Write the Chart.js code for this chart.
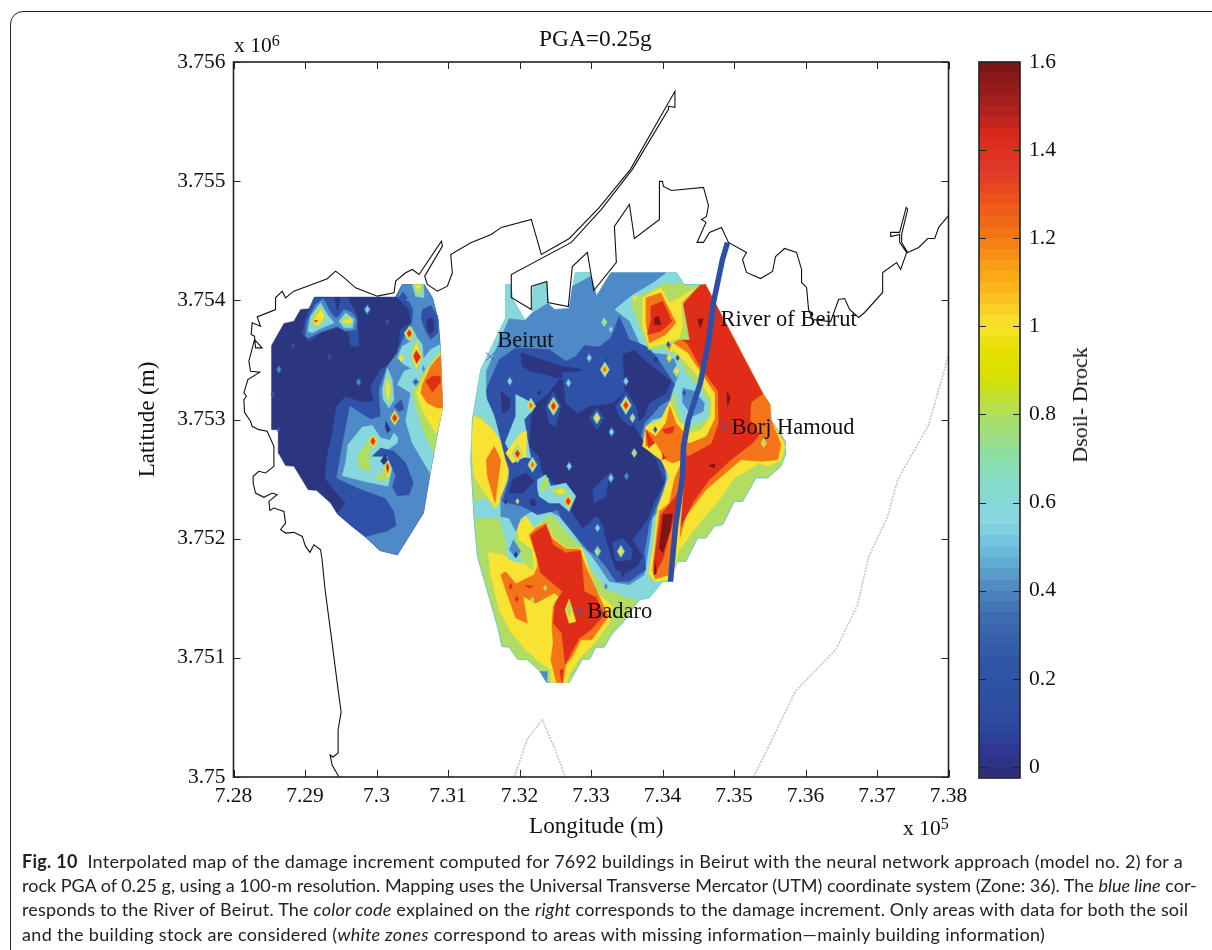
<!DOCTYPE html>
<html lang="en">
<head>
<meta charset="UTF-8">
<title>PGA=0.25g</title>
<script src="https://cdn.jsdelivr.net/npm/chart.js"></script>
<style>
  * { margin: 0; padding: 0; box-sizing: border-box; }
  html, body { width: 1212px; height: 950px; overflow: hidden; background: #fff; }
  canvas { position: absolute; }
  #frame { position: absolute; left: 10px; top: 11px; width: 1300px; height: 1000px; border: 1.3px solid #222; border-radius: 13px 0 0 0; }
  .serif { position: absolute; font-family: "Liberation Serif", serif; color: #111; white-space: nowrap; }
  .serif sup { font-size: 16px; position: relative; top: -1px; vertical-align: top; line-height: 18px; }
  #caption div { position: absolute; left: 22px; font-family: Lato, sans-serif; font-size: 18px; line-height: 24px; color: #222; white-space: nowrap; }
</style>
</head>
<body>
<div id="frame"></div>
<canvas id="map" width="1212" height="850" style="left:0;top:0"></canvas>
<canvas id="bar" width="140" height="760" style="left:960px;top:40px"></canvas>
<div class="serif" style="left:539px;top:25px;font-size:23.4px">PGA=0.25g</div>
<div class="serif" style="left:529px;top:812px;font-size:23.2px">Longitude (m)</div>
<div class="serif" style="left:234px;top:33px;font-size:21.5px">x 10<sup>6</sup></div>
<div class="serif" style="left:903px;top:816px;font-size:21.5px">x 10<sup>5</sup></div>
<div class="serif" style="left:1080px;top:405px;font-size:22px;transform:translate(-50%,-50%) rotate(-90deg)">Dsoil- Drock</div>
<div id="caption">
  <div style="top:849px;letter-spacing:0.27px"><b>Fig. 10</b>&nbsp; Interpolated map of the damage increment computed for 7692 buildings in Beirut with the neural network approach (model no. 2) for a</div>
  <div style="top:873px">rock PGA of 0.25 g, using a 100-m resolution. Mapping uses the Universal Transverse Mercator (UTM) coordinate system (Zone: 36). The <i>blue line</i> cor-</div>
  <div style="top:897px;letter-spacing:0.18px">responds to the River of Beirut. The <i>color code</i> explained on the <i>right</i> corresponds to the damage increment. Only areas with data for both the soil</div>
  <div style="top:922px;letter-spacing:0.32px">and the building stock are considered (<i>white zones</i> correspond to areas with missing information—mainly building information)</div>
</div>
<script>
// ticks
const lonTicks = [728000, 729000, 730000, 731000, 732000, 733000, 734000, 735000, 736000, 737000, 738000];
const latTicks = [3750000, 3751000, 3752000, 3753000, 3754000, 3755000, 3756000];
const barTicks = [0, 0.2, 0.4, 0.6, 0.8, 1, 1.2, 1.4, 1.6];

// contour bands of the map, index = band
const bandColors = ['#2b3580', '#2f52a8', '#4f8ac8', '#86d8dc', '#b1de62', '#f8e232', '#f47517', '#e02d18', '#7e1512'];

// all outlines below: metres east of 728000, metres north of 3750000 (e, n, e, n ...)
const ORIGIN_E = 728000, ORIGIN_N = 3750000;

// west patch
const westBase = [532,3621,705,3805,845,3825,938,3923,1055,3929,1134,4027,2268,4027,2361,4133,2665,4133,2781,4021,2861,3839,2889,3615,2922,3097,2851,2887,2749,2551,2655,2215,2292,1865,2049,1901,1848,2013,1647,2109,1451,2209,1358,2299,1162,2405,1045,2411,845,2607,728,2613,635,2713,625,2915,532,2915];
const westBlue = [2268,4027,2338,3993,2455,3923,2478,3811,2338,3755,2315,3629,2245,3475,2058,3419,1918,3279,1965,3153,1778,3145,1568,3195,1442,3111,1381,2887,1311,2691,1279,2509,1381,2425,1568,2299,1451,2209,1647,2109,1848,2013,2049,1901,2292,1865,2655,2215,2749,2551,2851,2887,2922,3097,2889,3615,2861,3839,2781,4021,2665,4133,2361,4133];
const westMid = [1848,2013,2151,2061,2282,2109,2245,2229,2128,2341,1801,2411,1442,2509,1521,2775,1629,3111,1918,2999,2058,3027,2035,3251,2151,3447,2291,3559,2431,3755,2501,3811,2515,3923,2455,3993,2291,4035,2361,4133,2665,4133,2781,4021,2861,3839,2889,3615,2922,3097,2851,2887,2749,2551,2655,2215,2292,1865,2049,1901];
const westTopBlue = [2315,4029,2371,4069,2431,4021,2371,3985];
const westNeBlue = [2641,3923,2758,3957,2851,3867,2861,3727,2758,3671,2688,3741,2628,3839];
const westNeNavy = [2711,3839,2781,3853,2805,3755,2744,3713,2711,3769];
const westCyanE = [2749,2551,2501,2803,2408,2985,2478,3223,2291,3293,2385,3405,2571,3447,2758,3587,2889,3629,2922,3097,2851,2887];
const westCyanU = [2291,3517,2361,3615,2571,3685,2641,3629,2665,3419,2571,3405,2385,3461];
const westCyanV = [2385,3727,2478,3783,2562,3699,2501,3657,2431,3671];
const westCyanT = [2501,4133,2655,4133,2665,4021,2548,4035];
const westGreenE = [2805,2719,2665,2887,2548,3111,2501,3223,2618,3363,2781,3489,2889,3573,2922,3097,2851,2887];
const westYellowE = [2842,2881,2711,2999,2609,3125,2562,3223,2711,3419,2889,3553,2922,3097];
const westOrangeE = [2898,3545,2758,3447,2641,3293,2618,3223,2711,3139,2851,3097,2926,3097];
const westRedE = [2688,3321,2781,3363,2889,3363,2889,3307,2781,3231];
const westMidDot = [2501,3315,2548,3349,2595,3315,2548,3279];
const westBlueDot = [2525,3315,2548,3329,2571,3315,2548,3299];
const westMidDot2 = [2641,3419,2655,3453,2679,3419,2655,3402];
const nwBlue = [961,3727,1008,3839,1125,4021,1405,4021,1451,3895,1507,4021,1601,4021,1731,3867,1755,3615,1638,3615,1601,3741,1451,3769,1218,3727,1055,3657];
const nwMid = [1008,3699,1031,3825,1148,3965,1255,4013,1358,3895,1442,3845,1545,3923,1661,3895,1722,3839,1708,3755,1568,3741,1451,3783,1241,3741,1041,3685];
const nwCyan = [1041,3741,1078,3867,1218,3979,1311,3881,1405,3811,1241,3769,1101,3727];
const nwCyan2 = [1475,3825,1568,3895,1685,3839,1661,3769,1545,3769];
const nwGreen = [1078,3811,1148,3909,1227,3951,1288,3853,1171,3769];
const nwGreen2 = [1507,3831,1591,3873,1666,3825,1591,3783];
const nwYellow = [1115,3825,1227,3923,1265,3853,1171,3789];
const nwYellow2 = [1535,3825,1638,3845,1647,3817,1545,3811];
const nwRed = [1125,3831,1181,3831,1153,3817];
const ridgeGreen = [2478,3531,2553,3693,2641,3531,2562,3405];
const ridgeYellow = [2501,3531,2557,3643,2618,3531,2562,3433];
const ridgeRed = [2516,3531,2557,3581,2618,3525,2562,3469];
const topGreen = [2515,4133,2655,4133,2618,4063,2571,4049];
const topYellow = [2539,4125,2632,4125,2581,4091];
const tallCyan = [2081,3251,2151,3433,2221,3335,2245,3167,2175,3097,2095,3167];
const tallGreen = [2114,3265,2151,3377,2212,3279,2189,3125,2128,3181];
const tallYellow = [2137,3251,2151,3335,2184,3251,2161,3167];
const patchBlue = [2245,3111,2347,3167,2385,3083,2315,3069];
const patchNavy = [2128,2985,2198,2915,2151,2887,2119,2943];
const lowCyan = [1801,2937,1601,2789,1568,2635,1521,2529,1825,2481,2161,2439,2207,2565,2268,2635,2151,2747,2291,2803,2301,2845,2245,2887,2189,2825,2058,2845,1941,2949];
const lowGreen = [1731,2691,1871,2817,1918,2761,1895,2691,1918,2565,1825,2579,1755,2607];
const lowGreen2 = [1965,2495,2081,2565,2128,2635,2198,2565,2151,2489];
const lowBlue = [1941,2691,2058,2761,2245,2733,2408,2635,2515,2467,2455,2369,2291,2361,2221,2439,2268,2523,2151,2691,2035,2691];
const lowNavy = [2058,2649,2114,2705,2161,2663,2105,2621];
const lowYellow = [2119,2593,2151,2649,2198,2593,2161,2509];
const lowRed = [2133,2601,2151,2635,2179,2601,2156,2551];

// central patch
const midBase = [3808,4133,3878,4133,3901,4013,4079,3831,4181,3895,4191,4105,4382,4153,4405,3973,4485,3923,4695,3929,4779,4231,4984,4231,5077,4035,5278,4231,6197,4231,6305,4133,6599,4133,7401,3223,7504,3125,7518,2999,7719,2817,7719,2705,7658,2607,7472,2509,7308,2509,7122,2313,7005,2313,6842,2117,6725,2103,6608,2005,6491,2005,6328,1809,6211,1809,6095,1641,6002,1641,5815,1501,5675,1487,5441,1291,5301,1207,5185,1089,5068,1089,4984,989,4881,989,4695,793,4382,793,4275,893,4111,983,3971,989,3855,1089,3752,1095,3705,1235,3411,1851,3365,2159,3318,2663,3341,2999,3458,3419,3808,3853];
const yellowWest = [3332,2859,3365,3027,3458,2999,3621,2915,3785,2775,3831,2663,3831,2523,3785,2355,3659,2257,3365,2523,3341,2663];
const orangeWest = [3537,2663,3645,2775,3738,2663,3659,2299,3551,2523];
const yellowSouth = [3565,1885,3761,1865,3948,1795,4018,1809,4205,1725,4181,1907,3995,1991,3971,2117,4088,2201,4205,2103,4368,2131,4461,2019,4648,1921,4881,1921,4975,1739,5068,1557,5301,1431,5255,1291,5045,1123,4858,1011,4695,871,4671,793,4438,793,4438,899,4298,955,4088,1067,3878,1221,3715,1403,3598,1697];
const orangeSouth = [4135,2033,4228,2089,4368,2131,4452,2005,4648,1913,4835,1913,4928,1767,5115,1515,5245,1347,5012,1151,4858,1151,4741,1011,4648,941,4611,793,4517,793,4438,983,4471,1123,4452,1263,4471,1431,4555,1515,4485,1543,4228,1459,4051,1515,4111,1291,3948,1333,3831,1529,3738,1697,3808,1725,3948,1621,4205,1697,4251,1767,4251,1823];
const redSouth = [4158,2025,4368,2117,4471,1949,4648,1879,4858,1901,4905,1557,5068,1509,5185,1361,5000,1235,4835,1165,4639,949,4592,1207,4471,1291,4499,1459,4601,1557,4298,1711,4251,1823];
const redStrip = [4079,1605,4195,1605,4135,1585];
const badaroYellow = [4639,1403,4695,1493,4788,1305,4695,1291];
const badaroGreen = [4648,1403,4695,1473,4741,1403,4695,1347];
const tipMid = [4284,885,4391,885,4382,793];
const tipRed = [4564,899,4611,899,4592,793];
const yellowEast = [6281,3979,6468,4125,6599,4133,7401,3223,7504,3125,7518,2999,7719,2775,7658,2663,7472,2607,7355,2635,7005,2509,6795,2327,6515,2131,6235,1907,6281,2383,6328,2663,6281,3223];
const orangeEast = [6258,3965,6491,4119,6599,4133,7401,3223,7504,3125,7518,2999,7658,2789,7611,2663,7378,2649,7098,2663,6608,2411,6328,2187,6235,1991,6305,2383,6328,2663,6281,3223];
const redEast = [6272,3951,6515,4125,6599,4133,7401,3215,7238,3145,7224,2999,7355,2873,7261,2803,6958,2663,6655,2495,6421,2299,6258,2103,6328,2691,6281,3223];
const darkEast1 = [6491,3839,6571,3845,6529,3769];
const darkEast2 = [6902,3237,6949,3181,6911,3111];
const darkEast3 = [6645,2613,6725,2629,6725,2593];
const orangePocket = [6235,3685,6351,3629,6515,3447,6771,3237,6781,2971,6678,2797,6351,2691,6048,3223,6095,3615];
const yellowPocket = [6141,3643,6351,3559,6538,3391,6725,3223,6725,2999,6608,2859,6375,2803,6048,2943,6048,3503];
const greenPocket = [6141,3587,6328,3475,6491,3363,6678,3167,6669,3027,6538,2915,6375,2887,6095,3083,6048,3447];
const midCyan = [3458,3419,3808,3853,3808,4133,3878,4133,3901,4013,4079,3831,4181,3895,4191,4105,4382,4153,4405,3973,4485,3923,4695,3929,4779,4231,4984,4231,5077,4035,5278,4231,6197,4231,6281,4141,6048,4147,5698,4049,5558,3979,5628,3853,5805,3587,6048,3587,6188,3531,6328,3391,6515,3265,6655,3139,6631,3013,6421,2943,6281,2971,6198,3139,6165,3237,6071,3139,5978,2999,5861,2943,5768,2929,5721,2775,5931,2663,6095,2523,6002,2243,5899,2187,5861,1935,5791,1683,5885,1633,6002,1641,5815,1501,5675,1487,5581,1493,5208,1577,4975,1767,4881,1921,4695,2033,4461,2201,4368,2181,4205,2089,4088,2201,3971,2117,3925,1991,4041,1795,3855,1823,3799,2005,3715,2173,3388,2173,3379,2313,3528,2341,3659,2249,3808,2355,3855,2523,3855,2663,3785,2789,3621,2929,3458,3027,3365,3041,3411,3223];
const midMid = [3537,3405,3855,3845,4079,3831,4181,3895,4391,3973,4485,3923,4695,3929,4741,4119,4998,4203,5077,4035,5278,4231,6048,4231,5861,4147,5581,4049,5325,3923,5535,3825,5675,3643,5838,3559,6048,3545,6165,3503,6235,3391,6188,3321,6141,3237,6048,3027,5861,2999,5768,2943,5745,2803,6048,2607,6048,2495,5978,2257,5861,2173,5815,1963,5745,1697,5535,1613,5255,1641,5115,1767,4998,1865,4881,1935,4601,2173,4471,2215,4368,2243,4205,2243,4018,2173,3948,2061,3855,2173,3738,2187,3738,2341,3831,2481,3901,2663,3808,2789,3668,2999,3537,3195];
const midBlue = [3537,3251,3715,3503,3948,3601,4415,3587,4648,3489,4788,3531,4905,3621,5115,3609,5278,3685,5395,3867,5535,3671,5791,3609,5908,3531,6095,3363,6165,3293,6095,3167,5955,3111,5838,3027,5745,2971,5698,2859,5721,2733,6001,2663,6048,2495,5931,2299,5815,2131,5745,1879,5768,1739,5535,1641,5348,1641,5208,1767,5091,1851,4951,1907,4578,2173,4508,2299,4555,2243,4251,2201,4041,2271,3761,2313,3855,2495,3855,2579,3808,2663,3761,2775,3645,3055,3551,3167];
const navyA = [4018,3559,4601,3447,4881,3419,4741,3363,4508,3349,4368,3377,4158,3405,4041,3447];
const navyMain = [5441,3545,5605,3581,5791,3475,6118,3321,6048,3223,5815,3139,5745,3027,5605,2943,5721,2831,5908,2663,6025,2467,5885,2313,5791,2159,5651,2047,5581,1991,5721,1851,5628,1767,5488,1711,5348,1739,5255,1907,5161,2103,5045,2159,4881,2089,4648,2299,4485,2467,4321,2551,4275,2691,4135,2775,4181,3111,4415,3223,4555,3335,4835,3307,4881,3405,5091,3405,5208,3503];
const navyStrip = [3738,3237,3878,3167,3855,3083,3761,3049];
const navyLobe = [3901,2495,4088,2551,4205,2481,4041,2383,3855,2383];
const navyLobe2 = [4135,2313,4205,2341,4237,2285,4181,2271];
const navyLobe3 = [3785,2313,3831,2327,3808,2285];
const fingerA = [4601,3391,4881,3405,5441,3559,5465,3223,5301,3139,4975,3111,4811,3055,4648,3139];
const fingerB = [5348,3111,5488,3237,5628,3111,5675,2971,5535,2943,5395,3027];
const fingerC = [4975,3013,5082,3097,5185,3013,5082,2915];
const fingerD = [4368,3111,4475,3237,4578,3111,4508,2943,4415,2971];
const fingerE = [4998,2159,5091,2187,5185,2075,5115,1963,4998,2047];
const fingerF = [5301,1963,5441,2005,5581,1907,5558,1823,5348,1809];
const fingerG = [5021,2411,5255,2551,5208,2355,5045,2299];
const westRidgeCyan = [3948,3209,4088,3167,4228,3111,4065,2999,4111,2831,4158,2677,3901,2691,3799,2803,3948,3027];
const westRidgeYellow = [3808,2719,4018,2887,4102,2901,4088,2691,3901,2635];
const pocketMid = [6281,3265,6445,3237,6585,3139,6571,3069,6421,3027,6281,3139];
const midDiamond = [3855,1907,3915,1991,4018,1893,3948,1837];
const cyanPatch = [4251,2495,4368,2537,4438,2439,4648,2467,4788,2355,4695,2229,4555,2299,4415,2299,4275,2355,4251,2425];
const greenPatch = [4284,2411,4345,2509,4405,2509,4391,2425,4312,2397];
const greenPatch2 = [4438,2397,4555,2439,4695,2389,4555,2355];
const yellowPatch = [4508,2397,4578,2417,4639,2394,4578,2377];
const riverYellow = [6104,3153,6235,2971,6328,2943,6305,2663,6235,2383,6235,1935,6141,1657,5908,1641,5805,1711,5885,1991,5931,2257,6095,2523,5978,2663,5721,2775,5768,2943,5978,2999];
const riverOrange = [6165,2495,6095,2299,5955,2229,5861,1739,5899,1661,6095,1697,6188,1963,6258,2383,6281,2663];
const riverRed = [6095,2285,5978,2201,5885,1823,5885,1697,6002,1823,6165,2187,6211,2383];
const riverDark = [6011,2201,6141,2209,6104,2061,6002,1879,5955,1921];
const riverDark2 = [5899,1801,5917,1711,5885,1697];
const pocketOrange = [6048,2971,6104,3111,6188,2971,6305,2887,6272,2663,6141,2635,6048,2663,5908,2803,5768,2775,5768,2915,5908,2859];
const pocketRed = [5999,2915,6165,2943,6141,2887,6048,2881];
const pocketRed2 = [5768,2915,5885,2803,5805,2761];
const pocketRed3 = [6001,2719,6048,2677,6001,2663];
const hotGreen = [5558,3979,5698,4049,5908,4063,6001,4133,6141,4035,6421,4119,6515,4125,6281,3979,6375,3671,6235,3671,6141,3643,6048,3601,5805,3587,5628,3867];
const hotYellow = [5721,4021,5978,4105,6095,3979,6235,4021,6468,4105,6258,3979,6281,3783,6235,3685,6048,3643,5815,3609,5721,3783];
const hotYellow2 = [5581,4029,5651,4035,5605,3993];
const hotOrange = [5768,4021,5978,4063,6188,3811,6048,3713,5815,3643,5768,3811];
const hotRed = [5838,3951,6001,3993,6132,3825,5978,3741,5791,3713,5838,3839];
const hotDark = [5885,3853,5945,3867,5978,3797,5894,3797];

// painted in this order: [band, outline]
const layers = [
  [0, westBase], [1, westBlue], [2, westMid], [1, westTopBlue], [1, westNeBlue], [0, westNeNavy],
  [3, westCyanE], [3, westCyanU], [3, westCyanV], [3, westCyanT], [4, westGreenE], [5, westYellowE], [6, westOrangeE], [7, westRedE],
  [2, westMidDot], [1, westBlueDot], [2, westMidDot2],
  [1, nwBlue], [2, nwMid], [3, nwCyan], [3, nwCyan2], [4, nwGreen], [4, nwGreen2], [5, nwYellow], [5, nwYellow2], [7, nwRed],
  [4, ridgeGreen], [5, ridgeYellow], [7, ridgeRed], [4, topGreen], [5, topYellow],
  [3, tallCyan], [4, tallGreen], [5, tallYellow], [1, patchBlue], [0, patchNavy],
  [3, lowCyan], [4, lowGreen], [4, lowGreen2], [1, lowBlue], [0, lowNavy], [5, lowYellow], [7, lowRed],
  [4, midBase], [5, yellowWest], [6, orangeWest], [5, yellowSouth], [6, orangeSouth], [7, redSouth], [7, redStrip],
  [5, badaroYellow], [4, badaroGreen], [2, tipMid], [7, tipRed],
  [5, yellowEast], [6, orangeEast], [7, redEast], [8, darkEast1], [8, darkEast2], [8, darkEast3],
  [6, orangePocket], [5, yellowPocket], [4, greenPocket],
  [3, midCyan], [2, midMid], [1, midBlue], [0, navyA], [0, navyMain], [0, navyStrip], [0, navyLobe], [0, navyLobe2], [0, navyLobe3],
  [1, fingerA], [1, fingerB], [1, fingerC], [1, fingerD], [1, fingerE], [1, fingerF], [1, fingerG],
  [3, westRidgeCyan], [5, westRidgeYellow],
  [2, pocketMid], [2, midDiamond], [3, cyanPatch], [4, greenPatch], [4, greenPatch2], [5, yellowPatch],
  [5, riverYellow], [6, riverOrange], [7, riverRed], [8, riverDark], [8, riverDark2],
  [6, pocketOrange], [7, pocketRed], [7, pocketRed2], [7, pocketRed3],
  [4, hotGreen], [5, hotYellow], [5, hotYellow2], [6, hotOrange], [7, hotRed], [8, hotDark]
];

// single-cell peaks: east, north, outer band, inner band
const spots = [
  [635,3419,1,2],[1750,3315,1,2],[1344,3523,1,1],[2151,3822,1,1],[635,2915,1,1],[835,3621,1,1],[550,3209,1,1],[1871,3923,1,3],
  [1951,2817,4,7],[2254,3013,4,7],[2347,3517,4,5],[2459,3721,4,7],
  [5194,3419,3,6],[3864,3321,2,3],[4685,3307,2,3],[4975,3517,2,3],[5488,3321,2,3],[4158,3117,3,6],[4475,3111,3,7],[5488,3119,3,7],
  [5082,3013,3,5],[5581,3013,3,4],[4695,2607,2,3],[4181,2621,3,6],[5605,2719,3,4],[5287,2895,2,3],[6198,3405,3,5],[6095,3517,4,5],
  [5278,3755,3,3],[5185,3817,3,4],[3971,2713,3,7],[5908,3503,0,0],[6081,3629,1,1],[6211,3517,1,1],[6305,3223,1,1],[4275,3223,0,0],
  [5278,2509,1,3],[5497,2523,1,2],[5091,2089,1,3],[5418,1893,3,5],[5091,1893,2,4],[5441,1697,0,0],[5651,1801,0,0],[5208,1599,2,2],
  [4681,2313,4,7],[3971,2313,4,4],[3962,1493,7,7],[3878,1599,7,7],[4181,1487,4,4],[4359,1585,4,4],[3948,1865,0,0],[5899,2915,1,1],[7415,2803,5,4]
];

// coast, river, grey lines
const coast = [1477,0,1379,101,1351,185,1393,168,1463,202,1463,395,1505,546,1463,731,1379,1126,1281,1571,1239,1823,1218,1907,1125,1949,1069,1885,1008,1935,961,2019,845,2053,728,2047,658,2075,728,2131,705,2229,565,2257,509,2237,495,2313,611,2369,541,2383,425,2347,308,2383,275,2467,275,2523,355,2565,448,2551,565,2607,565,2775,471,2901,355,2915,261,2943,238,2985,154,3061,145,3167,182,3195,145,3223,201,3335,369,3397,238,3405,215,3489,294,3671,401,3601,308,3601,294,3699,247,3713,261,3811,378,3783,331,3861,588,3923,588,4021,681,4077,728,4021,845,4077,1311,4181,1428,4245,1521,4203,1708,4105,2011,4035,2245,4063,2268,4161,2408,4231,2501,4259,2595,4217,2908,4497,2922,4455,2674,4203,2711,4133,2851,4077,2991,4119,3061,4231,3038,4385,3318,4483,3605,4553,3745,4612,4165,4679,4305,4385,4697,4519,5117,4780,5551,5099,6174,5754,6174,5620,6083,5628,6083,5603,5579,5099,5145,4763,4725,4486,3885,4217,3885,4024,4165,3923,4165,4116,4382,4158,4397,3982,4683,3948,4739,4284,4949,4402,5039,4082,5355,4318,5327,4620,5537,4805,5607,4519,5957,4679,5957,4998,5999,4998,6013,4956,6125,4922,6573,4948,6643,4796,6615,4704,6545,4679,6608,4654,6483,4486,6573,4486,6657,4570,6825,4612,6923,4486,7175,4402,7119,4343,7175,4234,7371,4183,7539,4242,7581,4368,7707,4435,7875,4402,7945,4259,7945,4150,8015,4108,8043,3923,8099,3839,8351,3822,8463,4007,8547,4015,8617,3923,8743,3856,8827,3898,9079,4066,9079,4234,9275,4318,9331,4259,9415,4402,9317,4486,9317,4553,9191,4536,9191,4570,9317,4570,9408,4780,9429,4763,9345,4553,9345,4486,9429,4402,9583,4444,9709,4519,9807,4519,9863,4612,10000,4710];
const river = [6909,4486,6839,4343,6713,3982,6643,3646,6531,3310,6363,2999,6293,2772,6279,2520,6181,2100,6111,1638];
const greyNorth = [3927,0,4109,319,4319,479,4501,227,4641,0];
const greyEast = [7273,0,7371,118,7861,722,8421,1067,8729,1445,8883,1848,9149,2184,9289,2495,9723,2957,9933,3394,10000,3550];

// places
const placeNames = ['Beirut', 'River of Beirut', 'Borj Hamoud', 'Badaro'];
const placeEast = [3591, 6713, 6867, 4851];
const placeNorth = [3528, 3864, 2940, 1386];

// colour bar
const barColorStops = [[-0.025,'#2b2f75'],[0.03,'#2e3592'],[0.1,'#2c4aa0'],[0.25,'#3058a8'],[0.35,'#3f6eb0'],[0.42,'#5590c5'],[0.5,'#6cc0de'],[0.55,'#87d5e3'],[0.65,'#84dcc8'],[0.72,'#90dd98'],[0.8,'#aedf60'],[0.88,'#d5e000'],[0.95,'#e8e000'],[1,'#f8e22f'],[1.1,'#fcb017'],[1.2,'#f47a15'],[1.3,'#ec4c1a'],[1.35,'#e0392a'],[1.43,'#db2a1b'],[1.5,'#a82020'],[1.6,'#781512']];

function toPoints(flat, close) {
  const pts = [];
  for (let i = 0; i < flat.length; i += 2) pts.push({ x: ORIGIN_E + flat[i], y: ORIGIN_N + flat[i + 1] });
  if (close) pts.push(pts[0]);
  return pts;
}
function hexToRgb(h) { return [1, 3, 5].map(i => parseInt(h.substr(i, 2), 16)); }
function barColor(v) {
  for (let i = 1; i < barColorStops.length; i++) {
    const [v0, c0] = barColorStops[i - 1], [v1, c1] = barColorStops[i];
    if (v <= v1) {
      const t = (v - v0) / (v1 - v0), a = hexToRgb(c0), b = hexToRgb(c1);
      return 'rgb(' + a.map((x, k) => Math.round(x + (b[k] - x) * t)).join(',') + ')';
    }
  }
  return barColorStops[barColorStops.length - 1][1];
}

const serif = '"Liberation Serif", serif';
Chart.defaults.font.family = serif;
Chart.defaults.color = '#111';

// map datasets, later ones on top
const datasets = [];
function addFill(band, flat, extra) {
  datasets.push(Object.assign({ data: toPoints(flat, true), showLine: true, fill: 'shape', tension: 0, pointRadius: 0, backgroundColor: bandColors[band], borderColor: bandColors[band], borderWidth: 0.5 }, extra));
}
layers.forEach(([band, flat]) => addFill(band, flat, flat === midBase ? { borderColor: '#6fc3dc', borderWidth: 1 } : {}));
spots.forEach(([e, n, from, to]) => {
  const count = Math.abs(to - from) + 1, dir = to >= from ? 1 : -1;
  for (let k = 0; k < count; k++) {
    const half = 12 + 13 * (count - k);
    addFill(from + dir * k, [e - half, n, e, n + half, e + half, n, e, n - half]);
  }
});
const lineSet = (flat, color, width, dash) => ({ data: toPoints(flat), showLine: true, fill: false, tension: 0, pointRadius: 0, borderColor: color, borderWidth: width, borderDash: dash || [] });
datasets.push(lineSet(greyNorth, '#c6c6c6', 1.6, [2, 1.2]));
datasets.push(lineSet(greyEast, '#c6c6c6', 1.6, [2, 1.2]));
datasets.push(lineSet(coast, '#111', 1.1));
datasets.push(lineSet(river, '#2c50a8', 5.5));
datasets.push({ data: placeEast.map((e, i) => ({ x: ORIGIN_E + e, y: ORIGIN_N + placeNorth[i] })), showLine: false, pointStyle: 'crossRot', pointRadius: 6, borderColor: '#3a62b5', borderWidth: 1 });
datasets.forEach((d, i) => { d.order = datasets.length - i; });

// ticks pointing inwards on all four sides, and the box
const innerTicks = {
  id: 'innerTicks',
  afterDatasetsDraw(chart) {
    const { ctx, chartArea: a } = chart;
    ctx.save();
    ctx.strokeStyle = '#222';
    ctx.lineWidth = 1;
    const len = 7;
    Object.values(chart.scales).forEach(s => {
      if (!s.options.display) return;
      s.ticks.forEach(t => {
        const p = Math.round(s.getPixelForValue(t.value)) + 0.5;
        ctx.beginPath();
        if (s.isHorizontal()) {
          ctx.moveTo(p, a.bottom); ctx.lineTo(p, a.bottom - len);
          ctx.moveTo(p, a.top); ctx.lineTo(p, a.top + len);
        } else {
          ctx.moveTo(a.left, p); ctx.lineTo(a.left + len, p);
          ctx.moveTo(a.right, p); ctx.lineTo(a.right - len, p);
        }
        ctx.stroke();
      });
    });
    ctx.lineWidth = 1.6;
    ctx.strokeRect(a.left, a.top, a.right - a.left, a.bottom - a.top);
    ctx.restore();
  }
};

const placeLabels = {
  id: 'placeLabels',
  afterDatasetsDraw(chart) {
    const { ctx, scales: { x, y } } = chart;
    const lift = [-15, 4, 1, 0];
    ctx.save();
    ctx.font = '22.5px ' + serif;
    ctx.fillStyle = '#111';
    ctx.textBaseline = 'middle';
    placeNames.forEach((name, i) => {
      ctx.fillText(name, x.getPixelForValue(ORIGIN_E + placeEast[i]) + 7, y.getPixelForValue(ORIGIN_N + placeNorth[i]) + lift[i]);
    });
    ctx.restore();
  }
};

const clearPadding = s => { s.paddingLeft = s.paddingRight = s.paddingTop = s.paddingBottom = 0; };

new Chart(document.getElementById('map'), {
  type: 'scatter',
  data: { datasets },
  plugins: [innerTicks, placeLabels],
  options: {
    responsive: false,
    animation: false,
    layout: { padding: { left: 0, right: 263.5, top: 62, bottom: 0 } },
    plugins: { legend: { display: false }, tooltip: { enabled: false } },
    scales: {
      x: {
        type: 'linear', min: 728000, max: 738000,
        grid: { display: false, drawTicks: false }, border: { display: false },
        afterBuildTicks: s => { s.ticks = lonTicks.map(value => ({ value })); },
        afterFit: s => { s.height = 73; clearPadding(s); },
        ticks: { font: { size: 21.5 }, maxRotation: 0, padding: 6, autoSkip: false, callback: v => String(+(v / 1e5).toFixed(2)) }
      },
      y: {
        type: 'linear', min: 3750000, max: 3756000,
        grid: { display: false, drawTicks: false }, border: { display: false },
        afterBuildTicks: s => { s.ticks = latTicks.map(value => ({ value })); },
        afterFit: s => { s.width = 233.5; clearPadding(s); },
        ticks: { font: { size: 21.5 }, padding: 8, autoSkip: false, callback: v => String(+(v / 1e6).toFixed(3)) },
        title: { display: true, text: 'Latitude (m)', font: { size: 23 }, color: '#111', padding: { top: 134, bottom: 0 } }
      }
    }
  }
});

// colour bar, one floating bar per step of the scale
const barSets = [];
for (let k = 0; k < 65; k++) {
  const lo = -0.025 + k * 0.025;
  barSets.push({ data: [[lo, lo + 0.025]], backgroundColor: barColor(lo + 0.0125), borderWidth: 0, barPercentage: 1, categoryPercentage: 1, grouped: false });
}
new Chart(document.getElementById('bar'), {
  type: 'bar',
  data: { labels: ['Dsoil- Drock'], datasets: barSets },
  plugins: [innerTicks],
  options: {
    responsive: false,
    animation: false,
    layout: { padding: { left: 19, right: 0, top: 22, bottom: 22 } },
    plugins: { legend: { display: false }, tooltip: { enabled: false } },
    scales: {
      x: { display: false, grid: { display: false } },
      y: {
        position: 'right', min: -0.025, max: 1.6,
        grid: { display: false, drawTicks: false }, border: { display: false },
        afterBuildTicks: s => { s.ticks = barTicks.map(value => ({ value })); },
        afterFit: s => { s.width = 80; clearPadding(s); },
        ticks: { font: { size: 21.5 }, padding: 9, autoSkip: false, callback: v => String(v) }
      }
    }
  }
});
</script>
</body>
</html>
